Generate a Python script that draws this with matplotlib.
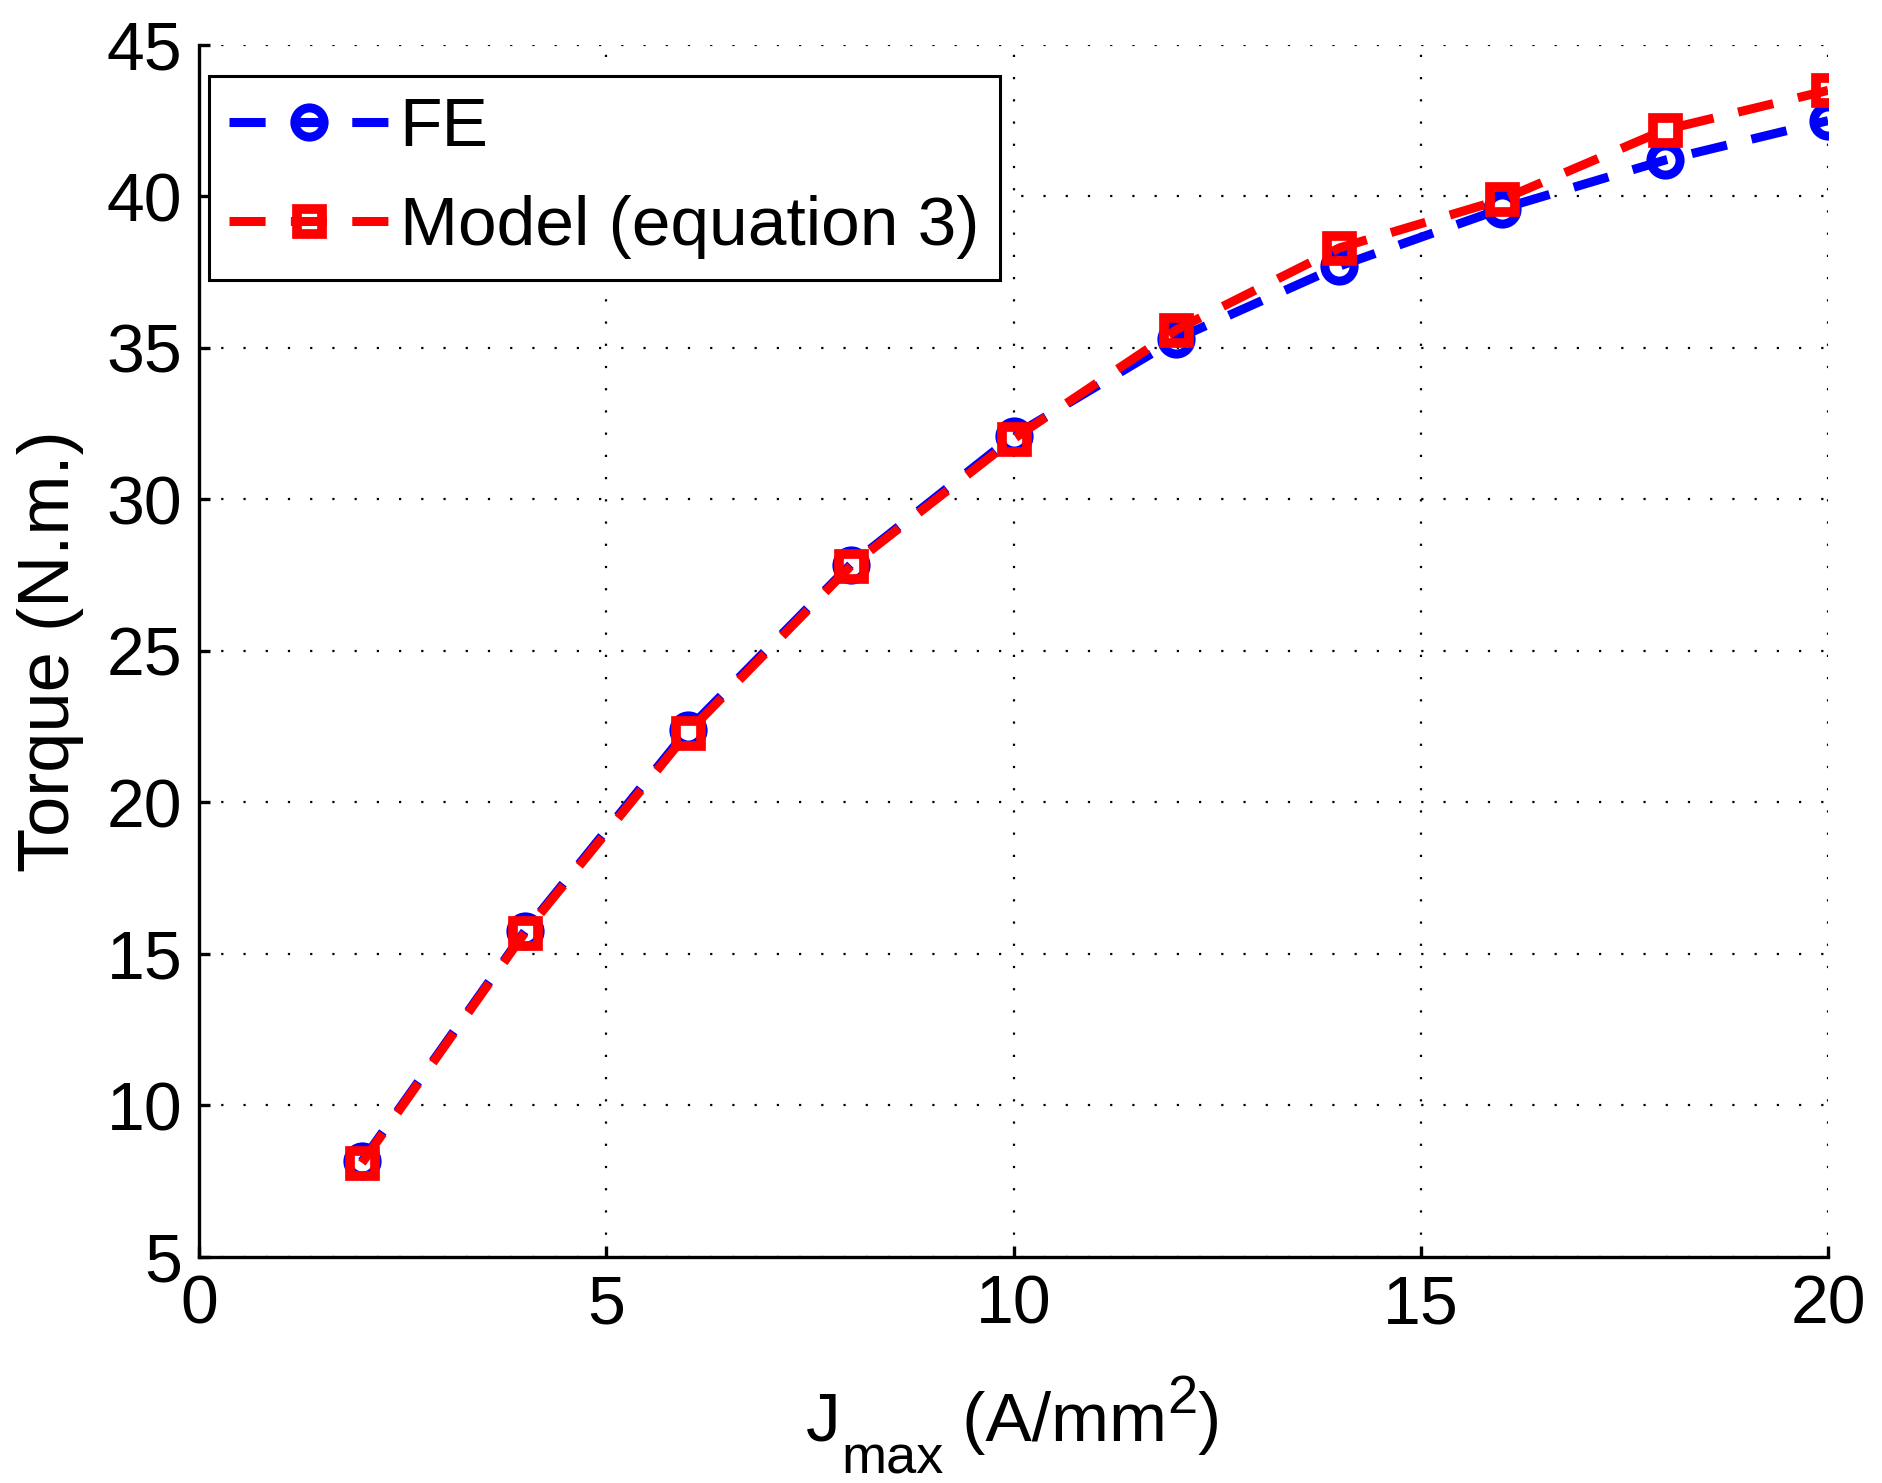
import matplotlib
matplotlib.use("Agg")
import matplotlib.pyplot as plt
from matplotlib.transforms import IdentityTransform

# current density (A/mm^2) and torque (N.m.)
j_max = [2, 4, 6, 8, 10, 12, 14, 16, 18, 20]
torque_fe = [8.15, 15.75, 22.4, 27.85, 32.1, 35.3, 37.7, 39.6, 41.2, 42.5]
torque_model = [8.1, 15.7, 22.3, 27.8, 32.0, 35.6, 38.3, 39.9, 42.2, 43.5]

x_ticks = [0, 5, 10, 15, 20]
y_ticks = [5, 10, 15, 20, 25, 30, 35, 40, 45]

plt.rcParams['font.family'] = ['Liberation Sans', 'DejaVu Sans']

fig = plt.figure(figsize=(18.83, 14.83), dpi=100)
ax = fig.add_axes([0.1057, 0.1525, 0.8651, 0.8172])

dash = (0, (4, 2.8))
ax.plot(j_max, torque_fe, color=(0, 0, 1), linestyle=dash, linewidth=6.5,
        marker='o', markersize=21, markeredgewidth=6.5, markerfacecolor='none',
        markeredgecolor=(0, 0, 1), label='FE')
ax.plot(j_max, torque_model, color=(1, 0, 0), linestyle=dash, linewidth=6.5,
        marker='s', markersize=18, markeredgewidth=7, markerfacecolor='none',
        markeredgecolor=(1, 0, 0), label='Model (equation 3)')

ax.set_xlim(0, 20)
ax.set_ylim(5, 45)
ax.set_xticks(x_ticks)
ax.set_yticks(y_ticks)
ax.grid(True, color='black', linestyle=(0, (1, 9)), linewidth=1.6)
for side in ('top', 'right'):
    ax.spines[side].set_visible(False)
for side in ('left', 'bottom'):
    ax.spines[side].set_linewidth(2.4)
ax.tick_params(direction='in', length=8, width=2.4, labelsize=49, pad=12)

ax.set_ylabel('Torque (N.m.)', fontsize=52, labelpad=16)

leg = ax.legend(loc='upper left', bbox_to_anchor=(0.0059, 0.9747),
                borderaxespad=0, fontsize=50, numpoints=1, handlelength=2.3,
                fancybox=False, framealpha=1, edgecolor='black',
                labelspacing=0.5, borderpad=0.3, handletextpad=0.15)
leg.get_frame().set_linewidth(2.2)

# x label built from pieces, MATLAB style big sub/superscript
renderer = fig.canvas.get_renderer()
box = ax.get_window_extent(renderer)
pieces = [('J', 50, -184), ('max', 39, -217), (' (A/mm', 50, -184),
          ('2', 39, -156), (')', 50, -184)]
texts = []
for s, size, dy in pieces:
    t = fig.text(0, box.y0 + dy, s, fontsize=size, va='baseline', ha='left',
                 transform=IdentityTransform())
    texts.append(t)
widths = [t.get_window_extent(renderer).width for t in texts]
x = (box.x0 + box.x1) / 2 - sum(widths) / 2
for t, w in zip(texts, widths):
    t.set_x(x)
    x += w

fig.savefig('out.png', dpi=100)
